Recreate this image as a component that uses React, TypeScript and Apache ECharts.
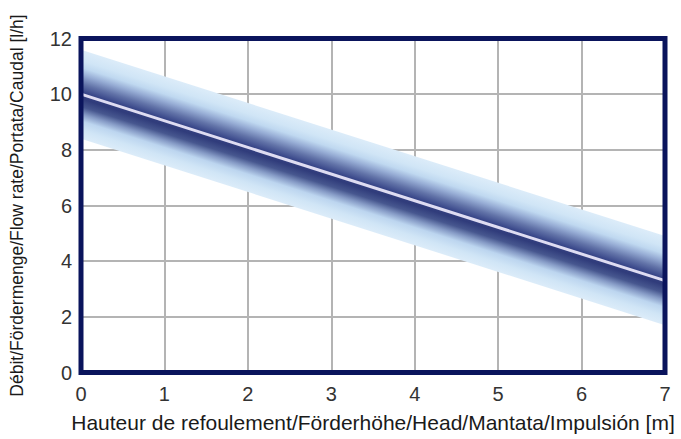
import React, { useEffect, useRef } from "react";
import * as echarts from "echarts";

// Data
const headValues = [0, 7]; // m
const flowCenter = [10, 3.3]; // l/h along the nominal curve
const bandHalfWidth = 1.6; // l/h tolerance band (outer)
const xTicks = [0, 1, 2, 3, 4, 5, 6, 7];
const yTicks = [0, 2, 4, 6, 8, 10, 12];

const xTitle = "Hauteur de refoulement/Förderhöhe/Head/Mantata/Impulsión [m]";
const yTitle = "Débit/Fördermenge/Flow rate/Portata/Caudal [l/h]";

const FONT = "Liberation Sans, Arial, Helvetica, sans-serif";

export default function App() {
  const ref = useRef<HTMLDivElement>(null);
  useEffect(() => {
    document.body.style.margin = "0";
    if (!ref.current) return;
    const chart = echarts.init(ref.current, undefined, { renderer: "svg" });
    const bandData = [[headValues[0], flowCenter[0], headValues[1], flowCenter[1]]];
    const lineData = headValues.map((x, i) => [x, flowCenter[i]]);

    chart.setOption({
      animation: false,
      backgroundColor: "#ffffff",
      grid: {
        left: 80,
        right: 16,
        top: 38.5,
        bottom: 66.5,
        show: true,
        z: 5,
        borderColor: "#0a145c",
        borderWidth: 5,
        backgroundColor: "transparent",
      },
      xAxis: {
        type: "value",
        min: 0,
        max: 7,
        interval: 1,
        name: xTitle,
        nameLocation: "middle",
        nameGap: 39,
        nameTextStyle: { fontFamily: FONT, fontSize: 21, color: "#1a1a1a" },
        axisLine: { show: false },
        axisTick: { show: false },
        axisLabel: {
          fontFamily: FONT,
          fontSize: 20,
          color: "#333",
          margin: 11,
          formatter: (v: number) => (xTicks.includes(v) ? String(v) : ""),
        },
        splitLine: { show: true, lineStyle: { color: "#b4b4b4", width: 2 } },
      },
      yAxis: {
        type: "value",
        min: 0,
        max: 12,
        interval: 2,
        name: yTitle,
        nameLocation: "middle",
        nameGap: 55,
        nameTextStyle: { fontFamily: FONT, fontSize: 17.5, color: "#1a1a1a" },
        axisLine: { show: false },
        axisTick: { show: false },
        axisLabel: {
          fontFamily: FONT,
          fontSize: 20,
          color: "#333",
          margin: 9,
          formatter: (v: number) => (yTicks.includes(v) ? String(v) : ""),
        },
        splitLine: { show: true, lineStyle: { color: "#b4b4b4", width: 2 } },
      },
      series: [
        {
          type: "custom",
          data: bandData,
          z: 2,
          renderItem: (params: any, api: any) => {
            const x0 = api.value(0);
            const c0 = api.value(1);
            const x1 = api.value(2);
            const c1 = api.value(3);
            const w = bandHalfWidth;
            const pts = [
              api.coord([x0, c0 + w]),
              api.coord([x1, c1 + w]),
              api.coord([x1, c1 - w]),
              api.coord([x0, c0 - w]),
            ];
            const a = api.coord([x0, c0]);
            const b = api.coord([x1, c1]);
            const dx = b[0] - a[0];
            const dy = b[1] - a[1];
            const len = Math.sqrt(dx * dx + dy * dy);
            const nx = -dy / len;
            const ny = dx / len;
            const top = api.coord([x0, c0 + w]);
            const vh = a[1] - top[1];
            const perp = vh * Math.abs(dx / len);
            const mx = (a[0] + b[0]) / 2;
            const my = (a[1] + b[1]) / 2;
            // gradient across the band, perpendicular to the line
            const g = new echarts.graphic.LinearGradient(
              mx - nx * perp,
              my - ny * perp,
              mx + nx * perp,
              my + ny * perp,
              [
                { offset: 0, color: "#dcecf9" },
                { offset: 0.12, color: "#d0e5f6" },
                { offset: 0.2, color: "#bfd8f0" },
                { offset: 0.28, color: "#97add5" },
                { offset: 0.38, color: "#6273a8" },
                { offset: 0.47, color: "#3a488a" },
                { offset: 0.5, color: "#333f80" },
                { offset: 0.55, color: "#303c7b" },
                { offset: 0.64, color: "#47578f" },
                { offset: 0.72, color: "#869bc6" },
                { offset: 0.8, color: "#bcd5ef" },
                { offset: 0.9, color: "#d0e5f6" },
                { offset: 1, color: "#dcecf9" },
              ],
              true
            );
            return {
              type: "polygon",
              shape: { points: pts },
              style: { fill: g, stroke: null },
            };
          },
        },
        {
          type: "line",
          data: lineData,
          z: 3,
          symbol: "none",
          lineStyle: { color: "#dedcf2", width: 3 },
        },
      ],
    });
    return () => chart.dispose();
  }, []);
  return <div ref={ref} style={{ width: 681, height: 439 }} />;
}
